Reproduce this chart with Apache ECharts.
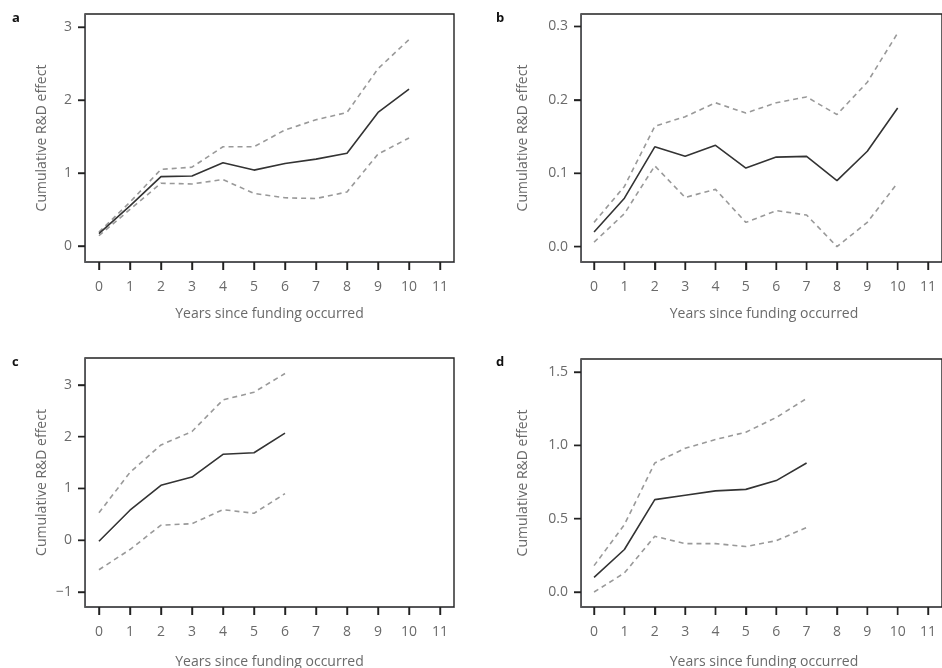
<!DOCTYPE html>
<html><head><meta charset="utf-8">
<script src="https://cdn.jsdelivr.net/npm/echarts@6/dist/echarts.min.js"></script>
<style>html,body{margin:0;padding:0;background:#fff}#c{width:942px;height:668px}</style>
</head><body><div id="c"></div>
<script>
// ---- data ----
const xTicks = [0,1,2,3,4,5,6,7,8,9,10,11];
const yearsAB = [0,1,2,3,4,5,6,7,8,9,10];
const yearsC = [0,1,2,3,4,5,6];
const yearsD = [0,1,2,3,4,5,6,7];

const aMid   = [0.17,0.55,0.95,0.96,1.14,1.04,1.13,1.19,1.27,1.83,2.15];
const aUpper = [0.19,0.60,1.05,1.08,1.36,1.36,1.59,1.73,1.83,2.43,2.83];
const aLower = [0.14,0.50,0.86,0.85,0.91,0.72,0.66,0.65,0.74,1.26,1.48];

const bMid   = [0.020,0.066,0.136,0.123,0.138,0.107,0.122,0.123,0.090,0.130,0.189];
const bUpper = [0.033,0.082,0.164,0.177,0.196,0.182,0.196,0.204,0.180,0.224,0.291];
const bLower = [0.006,0.045,0.110,0.067,0.078,0.033,0.049,0.043,0.000,0.033,0.087];

const cMid   = [-0.02,0.58,1.06,1.22,1.66,1.69,2.07];
const cUpper = [0.53,1.31,1.84,2.10,2.71,2.86,3.22];
const cLower = [-0.57,-0.18,0.29,0.32,0.59,0.52,0.90];

const dMid   = [0.10,0.29,0.63,0.66,0.69,0.70,0.76,0.88];
const dUpper = [0.18,0.46,0.88,0.98,1.04,1.09,1.19,1.32];
const dLower = [0.00,0.13,0.38,0.33,0.33,0.31,0.35,0.44];

const aYTicks = [0,1,2,3];
const bYTicks = [0,0.1,0.2,0.3];
const cYTicks = [-1,0,1,2,3];
const dYTicks = [0,0.5,1.0,1.5];

const panelLetters = ['a','b','c','d'];
const xTitle = 'Years since funding occurred';
const yTitle = 'Cumulative R&D effect';

// ---- build ----
const FONT = 'Open Sans';
const grids = [
  {left:85, top:14, width:369, height:248},
  {left:581, top:14, width:366, height:248},
  {left:85, top:358, width:369, height:249},
  {left:581, top:359, width:366, height:248}
];
const xRanges = [[-0.45,11.45],[-0.43,11.46],[-0.45,11.45],[-0.43,11.46]];
const yRanges = [[-0.22,3.18],[-0.021,0.317],[-1.29,3.52],[-0.102,1.589]];
const yTickSets = [aYTicks,bYTicks,cYTicks,dYTicks];
const yFmt = [
  v => String(v),
  v => v.toFixed(1),
  v => v < 0 ? '\u2212' + Math.abs(v) : String(v),
  v => v.toFixed(1)
];
const sets = [
  [yearsAB,aMid,aUpper,aLower],
  [yearsAB,bMid,bUpper,bLower],
  [yearsC,cMid,cUpper,cLower],
  [yearsD,dMid,dUpper,dLower]
];
const pair = (xs, ys) => xs.map((x,i)=>[x,ys[i]]);
const BOX = '#222';
const LBL = '#6a6a6a';

// tick marks drawn through the axes' scales (custom series, outside the box)
function tickSeries(i, data, dx, dy) {
  return {
    type:'custom', xAxisIndex:i, yAxisIndex:i, clip:false, silent:true, z:5,
    data: data,
    renderItem: (params, api) => {
      const p = api.coord([api.value(0), api.value(1)]);
      return {type:'line', shape:{x1:p[0], y1:p[1], x2:p[0]+dx, y2:p[1]+dy},
        style:{stroke:BOX, lineWidth:1.4}};
    }
  };
}

const xAxis = [], yAxis = [], series = [];
grids.forEach((g,i)=>{
  xAxis.push({
    type:'value', gridIndex:i, min:xRanges[i][0], max:xRanges[i][1],
    axisLine:{onZero:false}, splitLine:{show:false},
    axisTick:{show:true, customValues:xTicks, length:8, lineStyle:{color:BOX, width:1.4}},
    axisLabel:{customValues:xTicks, margin:18, color:LBL, fontFamily:FONT, fontSize:14}
  });
  yAxis.push({
    type:'value', gridIndex:i, min:yRanges[i][0], max:yRanges[i][1],
    axisLine:{onZero:false}, splitLine:{show:false},
    axisTick:{show:true, customValues:yTickSets[i], length:7, lineStyle:{color:BOX, width:1.4}},
    axisLabel:{customValues:yTickSets[i], formatter:yFmt[i], margin:13, color:LBL, fontFamily:FONT, fontSize:14}
  });
  const [xs,mid,up,lo] = sets[i];
  const dashed = {color:'#999', width:1.6, type:[5,4]};
  series.push(
    {type:'line', xAxisIndex:i, yAxisIndex:i, data:pair(xs,up), symbol:'none', lineStyle:dashed},
    {type:'line', xAxisIndex:i, yAxisIndex:i, data:pair(xs,lo), symbol:'none', lineStyle:dashed},
    {type:'line', xAxisIndex:i, yAxisIndex:i, data:pair(xs,mid), symbol:'none', lineStyle:{color:'#333', width:1.6}},
    tickSeries(i, xTicks.map(v=>[v, yRanges[i][0]]), 0, 8),
    tickSeries(i, yTickSets[i].map(v=>[xRanges[i][0], v]), -7, 0)
  );
});

// panel letters and axis titles
const letterPos = [[12,12],[496,12],[12,356],[496,356]];
const yTitleX = [42, 523, 42, 523];
const xTitleY = [314, 314, 662, 662];
const graphic = [];
grids.forEach((g,i)=>{
  graphic.push({type:'text', left:letterPos[i][0], top:letterPos[i][1],
    style:{text:panelLetters[i], font:'bold 13px "Open Sans"', fill:'#111'}});
  graphic.push({type:'text', x:g.left + g.width/2, y:xTitleY[i],
    style:{text:xTitle, font:'14px "Open Sans"', fill:LBL, align:'center', verticalAlign:'middle'}});
  graphic.push({type:'text', x:yTitleX[i], y:g.top + g.height/2, rotation:Math.PI/2,
    style:{text:yTitle, font:'14px "Open Sans"', fill:LBL, align:'center', verticalAlign:'middle'}});
});

const chart = echarts.init(document.getElementById('c'), null, {renderer:'canvas'});
chart.setOption({
  animation:false,
  grid: grids.map(g=>Object.assign({show:true, borderColor:BOX, borderWidth:1.4}, g)),
  xAxis, yAxis, series, graphic
});
</script></body></html>
